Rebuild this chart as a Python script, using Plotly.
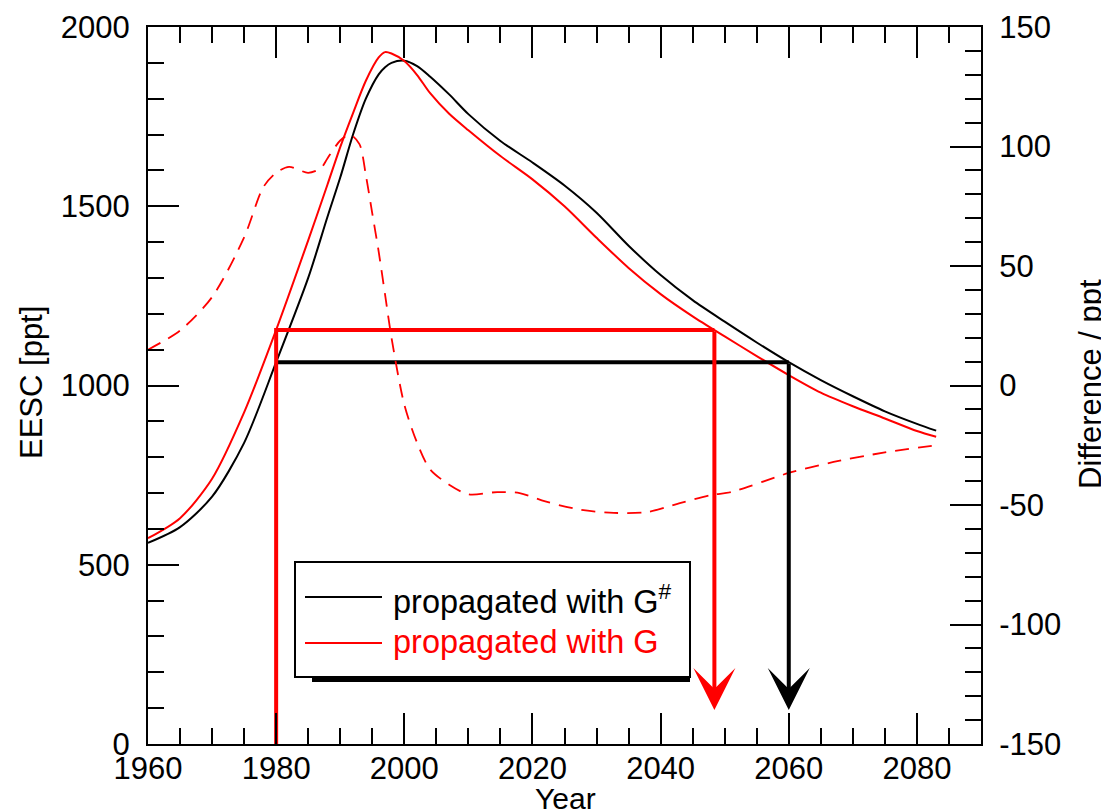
import numpy as np
import plotly.graph_objects as go

# ---------------- data ----------------
years = [1960, 1965, 1970, 1975, 1980, 1985, 1988, 1990, 1992, 1994, 1996, 1997,
         1998, 2000, 2002, 2004, 2007, 2010, 2015, 2020, 2025, 2030, 2035, 2040,
         2045, 2050, 2055, 2060, 2065, 2070, 2075, 2080, 2083]

eesc_g_sharp = [561, 605, 690, 840, 1065, 1300, 1470, 1580, 1700, 1800, 1868, 1888,
                1900, 1906, 1891, 1862, 1812, 1757, 1682, 1622, 1558, 1482, 1390, 1308,
                1238, 1178, 1120, 1065, 1015, 970, 928, 893, 874]

eesc_g = [574, 630, 740, 925, 1155, 1405, 1560, 1665, 1760, 1850, 1915, 1930,
          1926, 1905, 1866, 1816, 1758, 1712, 1640, 1575, 1500, 1412, 1328, 1255,
          1193, 1137, 1082, 1029, 980, 942, 908, 873, 857]

years_diff = [1960, 1965, 1970, 1975, 1978, 1980, 1982, 1985, 1987, 1988, 1990, 1991.5,
              1993, 1994, 1995, 1996, 1997, 1998, 2000, 2002, 2004, 2007, 2010, 2014.5,
              2018, 2022, 2027.5, 2032.7, 2038, 2043, 2048, 2051, 2060, 2067, 2075, 2083]
difference = [15, 23, 37, 62, 83, 89, 91.5, 89, 91, 95, 102.5, 105,
              101, 88, 72, 56, 38, 20, -8, -24, -35, -41.5, -45.5, -44.6,
              -45, -48.5, -52, -53.3, -52.9, -49.2, -45.8, -44.6, -36.6, -32, -28, -25]

ref_year = 1980
label_black = "propagated with G<sup>#</sup>"
label_red = "propagated with G"

x_ticks = [1960, 1980, 2000, 2020, 2040, 2060, 2080]
y2_ticks = [-150, -100, -50, 0, 50, 100, 150]
y2_labels = ["-150", "-100", "-50", "0", "50", "100", "150"]

# ---------------- derived: return-to-1980 levels ----------------
def return_year(xs, ys, ref):
    xs = np.asarray(xs, float); ys = np.asarray(ys, float)
    lvl = float(np.interp(ref, xs, ys))
    ip = int(np.argmax(ys))
    for i in range(ip, len(xs) - 1):
        if ys[i] >= lvl >= ys[i + 1]:
            t = (ys[i] - lvl) / (ys[i] - ys[i + 1])
            return lvl, xs[i] + t * (xs[i + 1] - xs[i])
    return lvl, xs[-1]

lvl_b, yr_b = return_year(years, eesc_g_sharp, ref_year)
lvl_r, yr_r = return_year(years, eesc_g, ref_year)
ARROW_END = 95

BLACK = "#000000"
RED = "#ff0000"
FONT = "Liberation Sans"

fig = go.Figure()

# difference (right axis)
fig.add_trace(go.Scatter(x=years_diff, y=difference, yaxis="y2", mode="lines",
                         line=dict(color=RED, width=1.8, dash="14px,9px", shape="spline", smoothing=0.8),
                         showlegend=False))
# EESC curves
fig.add_trace(go.Scatter(x=years, y=eesc_g_sharp, mode="lines",
                         line=dict(color=BLACK, width=2, shape="spline", smoothing=0.8),
                         showlegend=False))
fig.add_trace(go.Scatter(x=years, y=eesc_g, mode="lines",
                         line=dict(color=RED, width=2, shape="spline", smoothing=0.8),
                         showlegend=False))

# guide lines
fig.add_trace(go.Scatter(x=[ref_year, yr_b], y=[lvl_b, lvl_b], mode="lines",
                         line=dict(color=BLACK, width=4), showlegend=False))
fig.add_trace(go.Scatter(x=[ref_year, ref_year, yr_r], y=[0, lvl_r, lvl_r], mode="lines",
                         line=dict(color=RED, width=4), showlegend=False))

annotations = []
for yr, lvl, col in [(yr_b, lvl_b, BLACK), (yr_r, lvl_r, RED)]:
    annotations.append(dict(x=yr, y=ARROW_END, ax=yr, ay=lvl, xref="x", yref="y",
                            axref="x", ayref="y", text="", showarrow=True,
                            arrowhead=3, arrowwidth=4, arrowsize=1.75, arrowcolor=col))

# page geometry (the page body adds an 8px offset)
OFF = 8
W, H = 1109, 812
L, R, T, B = 148, 981, 27, 744
def px(x): return (x - L) / (R - L)
def py(y): return (B - y) / (B - T)

# axis titles
annotations += [
    dict(text="Year", x=px(565), y=py(798), xref="paper", yref="paper", showarrow=False,
         font=dict(family=FONT, size=30, color=BLACK), xanchor="center", yanchor="middle"),
    dict(text="EESC [ppt]", x=px(31), y=py(383), xref="paper", yref="paper", showarrow=False,
         textangle=-90, font=dict(family=FONT, size=31, color=BLACK), xanchor="center", yanchor="middle"),
    dict(text="Difference / ppt", x=px(1090), y=py(384), xref="paper", yref="paper", showarrow=False,
         textangle=-90, font=dict(family=FONT, size=31, color=BLACK), xanchor="center", yanchor="middle"),
]
# legend texts
annotations += [
    dict(text=label_black, x=px(391), y=py(599), xref="paper", yref="paper", showarrow=False,
         font=dict(family=FONT, size=32.5, color=BLACK), xanchor="left", yanchor="middle"),
    dict(text=label_red, x=px(391), y=py(642), xref="paper", yref="paper", showarrow=False,
         font=dict(family=FONT, size=32.5, color=RED), xanchor="left", yanchor="middle"),
]

shapes = [
    # legend shadow
    dict(type="line", xref="paper", yref="paper", x0=px(312), x1=px(690), y0=py(680), y1=py(680),
         line=dict(color=BLACK, width=4), layer="above"),
    # legend box
    dict(type="rect", xref="paper", yref="paper", x0=px(295), x1=px(690), y0=py(677), y1=py(562),
         line=dict(color=BLACK, width=2), fillcolor="white", layer="above"),
    dict(type="line", xref="paper", yref="paper", x0=px(305), x1=px(382), y0=py(597), y1=py(597),
         line=dict(color=BLACK, width=2), layer="above"),
    dict(type="line", xref="paper", yref="paper", x0=px(305), x1=px(382), y0=py(643), y1=py(643),
         line=dict(color=RED, width=2), layer="above"),
]

tickfont = dict(family=FONT, size=31, color=BLACK)
common = dict(showgrid=False, zeroline=False, showline=True, linecolor=BLACK, linewidth=2,
              ticks="inside", ticklen=31, tickwidth=2, tickcolor=BLACK, tickfont=tickfont,
              automargin=False)

fig.update_layout(
    width=W, height=H,
    margin=dict(l=L - OFF, r=W + OFF - R, t=T - OFF, b=H + OFF - B, pad=0, autoexpand=False),
    paper_bgcolor="white", plot_bgcolor="white",
    font=dict(family=FONT, color=BLACK),
    showlegend=False,
    xaxis=dict(range=[1960, 2090], tickmode="array", tickvals=x_ticks, mirror="ticks",
               minor=dict(dtick=5, tick0=1960, ticklen=16, tickwidth=2, tickcolor=BLACK, ticks="inside"),
               ticklabelstandoff=-4, **common),
    yaxis=dict(range=[0, 2000], dtick=500, tick0=0,
               minor=dict(dtick=100, ticklen=16, tickwidth=2, tickcolor=BLACK, ticks="inside"),
               ticklabelstandoff=10, **common),
    yaxis2=dict(range=[-150, 150], tickmode="array", tickvals=y2_ticks, ticktext=y2_labels,
                overlaying="y", side="right",
                minor=dict(dtick=10, tick0=0, ticklen=16, tickwidth=2, tickcolor=BLACK, ticks="inside"),
                ticklabelstandoff=10, **common),
    annotations=annotations,
    shapes=shapes,
)

fig.write_html("out.html")
